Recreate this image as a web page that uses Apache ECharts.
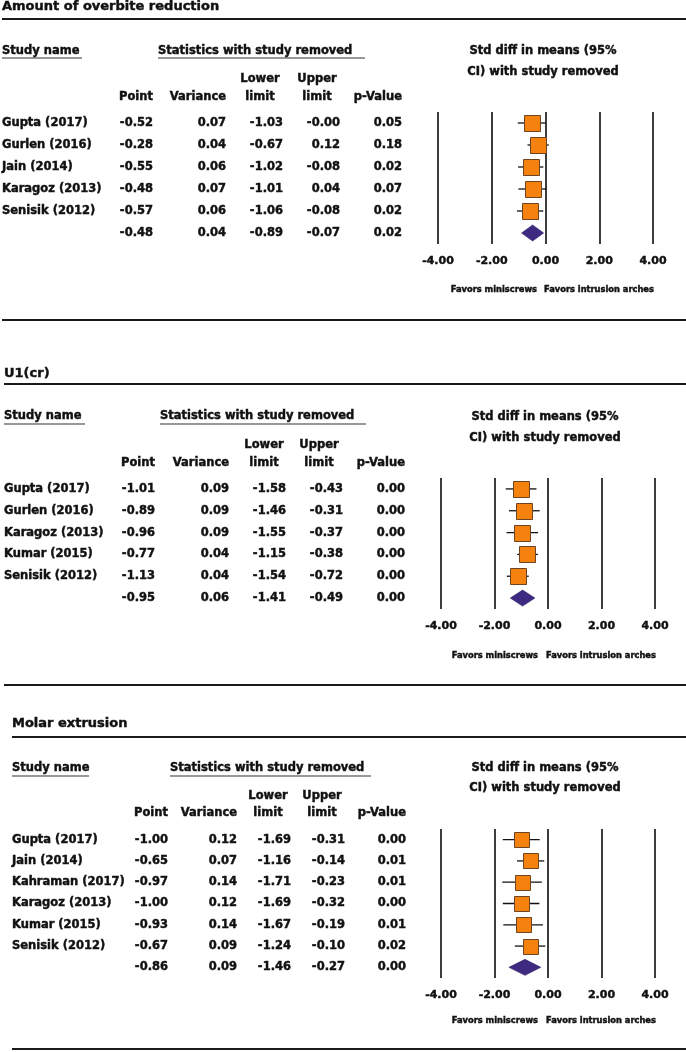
<!DOCTYPE html>
<html><head><meta charset="utf-8">
<script src="https://cdn.jsdelivr.net/npm/echarts@6/dist/echarts.min.js"></script>
<style>html,body{margin:0;padding:0;background:#fff}#c{width:686px;height:1052px}</style>
</head><body><div id="c"></div>
<script>
// ---------- DATA ----------
// Panel 1: Amount of overbite reduction
const p1Title = 'Amount of overbite reduction';
const p1Studies = ['Gupta (2017)', 'Gurlen (2016)', 'Jain (2014)', 'Karagoz (2013)', 'Senisik (2012)', ''];
const p1Point = [-0.52, -0.28, -0.55, -0.48, -0.57, -0.48];
const p1Variance = [0.07, 0.04, 0.06, 0.07, 0.06, 0.04];
const p1Lower = [-1.03, -0.67, -1.02, -1.01, -1.06, -0.89];
const p1Upper = [-0.00, 0.12, -0.08, 0.04, -0.08, -0.07];
const p1PValue = [0.05, 0.18, 0.02, 0.07, 0.02, 0.02];

// Panel 2: U1(cr)
const p2Title = 'U1(cr)';
const p2Studies = ['Gupta (2017)', 'Gurlen (2016)', 'Karagoz (2013)', 'Kumar (2015)', 'Senisik (2012)', ''];
const p2Point = [-1.01, -0.89, -0.96, -0.77, -1.13, -0.95];
const p2Variance = [0.09, 0.09, 0.09, 0.04, 0.04, 0.06];
const p2Lower = [-1.58, -1.46, -1.55, -1.15, -1.54, -1.41];
const p2Upper = [-0.43, -0.31, -0.37, -0.38, -0.72, -0.49];
const p2PValue = [0.00, 0.00, 0.00, 0.00, 0.00, 0.00];

// Panel 3: Molar extrusion
const p3Title = 'Molar extrusion';
const p3Studies = ['Gupta (2017)', 'Jain (2014)', 'Kahraman (2017)', 'Karagoz (2013)', 'Kumar (2015)', 'Senisik (2012)', ''];
const p3Point = [-1.00, -0.65, -0.97, -1.00, -0.93, -0.67, -0.86];
const p3Variance = [0.12, 0.07, 0.14, 0.12, 0.14, 0.09, 0.09];
const p3Lower = [-1.69, -1.16, -1.71, -1.69, -1.67, -1.24, -1.46];
const p3Upper = [-0.31, -0.14, -0.23, -0.32, -0.19, -0.10, -0.27];
const p3PValue = [0.00, 0.01, 0.01, 0.00, 0.01, 0.02, 0.00];

// Axis ticks / header texts
const xTicks = [-4, -2, 0, 2, 4];
const headStudy = 'Study name';
const headStats = 'Statistics with study removed';
const headCols = ['Point', 'Variance', 'limit', 'limit', 'p-Value'];
const headLower = 'Lower', headUpper = 'Upper';
const headPlot1 = 'Std diff in means (95%', headPlot2 = 'CI) with study removed';
const favLeft = 'Favors miniscrews', favRight = 'Favors intrusion arches';

// ---------- LAYOUT ----------
const panels = [
  { title: p1Title, studies: p1Studies, cols: [p1Point, p1Variance, p1Lower, p1Upper, p1PValue],
    L: { x0: 2, titleY: 6, rule1Y: 19, headY: 50, ulY: 58, studyUlEnd: 82, statX: 158, statUlEnd: 365,
         lowUpY: 78, colHeadY: 96, colRight: [153, 226, 283, 340, 402], lowC: 260, upC: 317,
         stdC: 543, stdY1: 50, stdY2: 71, grid: { left: 438, top: 112, width: 215, height: 132 },
         favY: 289, favL: 537, favR: 544, endY: 320, sq: 16 } },
  { title: p2Title, studies: p2Studies, cols: [p2Point, p2Variance, p2Lower, p2Upper, p2PValue],
    L: { x0: 4, titleY: 373, rule1Y: 384, headY: 415, ulY: 424, studyUlEnd: 85, statX: 160, statUlEnd: 366,
         lowUpY: 444, colHeadY: 462, colRight: [155, 229, 286, 343, 405], lowC: 264, upC: 319,
         stdC: 545, stdY1: 416, stdY2: 437, grid: { left: 441, top: 478, width: 214, height: 131 },
         favY: 655, favL: 538, favR: 546, endY: 685, sq: 16 } },
  { title: p3Title, studies: p3Studies, cols: [p3Point, p3Variance, p3Lower, p3Upper, p3PValue],
    L: { x0: 12, titleY: 723, rule1Y: 737, headY: 767, ulY: 776, studyUlEnd: 89, statX: 170, statUlEnd: 371,
         lowUpY: 795, colHeadY: 812, colRight: [168, 237, 291, 345, 406], lowC: 268, upC: 322,
         stdC: 545, stdY1: 767, stdY2: 787, grid: { left: 441, top: 829, width: 214, height: 149 },
         favY: 1020, favL: 538, favR: 546, endY: 1049, sq: 15 } }
];

const FONT = '"DejaVu Sans", "Liberation Sans", sans-serif';
const INK = '#111';
const HEAVY = 0.45; // thin outline to thicken glyphs like the scanned original
const TEXT_DY = 1;  // optical centring of bold caps
function fmt(v) {
  const neg = v < 0 || Object.is(v, -0);
  return (neg ? '-' : '') + Math.abs(v).toFixed(2);
}
function txt(text, x, y, size, align) {
  return { type: 'text', silent: true, style: { text: text, x: x, y: y + TEXT_DY, fill: INK,
    font: 'bold ' + size + 'px ' + FONT, align: align || 'left', verticalAlign: 'middle',
    stroke: INK, lineWidth: HEAVY } };
}
function rule(x1, x2, y, w, c) {
  return { type: 'line', silent: true, shape: { x1: x1, y1: y, x2: x2, y2: y },
    style: { stroke: c || '#1a1a1a', lineWidth: w || 2 } };
}
function labelStyle(size) {
  return { color: INK, fontFamily: FONT, fontWeight: 'bold', fontSize: size,
    textBorderColor: INK, textBorderWidth: HEAVY };
}

const grids = [], xAxes = [], yAxes = [], series = [], graphics = [];
panels.forEach(function (P, g) {
  const L = P.L;
  grids.push(Object.assign({ outerBoundsMode: 'none', containLabel: false }, L.grid));
  xAxes.push({ type: 'value', gridIndex: g, min: -4, max: 4, interval: 2,
    axisLine: { show: false }, axisTick: { show: false },
    splitLine: { show: true, lineStyle: { color: '#1a1a1a', width: 1.7 } },
    axisLabel: Object.assign({ margin: 12,
      formatter: function (v) { return xTicks.indexOf(v) >= 0 ? fmt(v) : ''; } }, labelStyle(11)) });
  const mainY = yAxes.length;
  yAxes.push({ type: 'category', gridIndex: g, data: P.studies, inverse: true,
    axisLine: { show: false }, axisTick: { show: false }, axisLabel: { show: false }, splitLine: { show: false } });
  // study-name column
  yAxes.push({ type: 'category', gridIndex: g, data: P.studies, inverse: true, position: 'left',
    offset: L.grid.left - L.x0, axisLine: { show: false }, axisTick: { show: false }, splitLine: { show: false },
    axisLabel: Object.assign({ interval: 0, margin: 0, align: 'left', padding: [2 * TEXT_DY, 0, 0, 0] }, labelStyle(11.5)) });
  // numeric columns
  P.cols.forEach(function (col, k) {
    yAxes.push({ type: 'category', gridIndex: g, data: P.studies, inverse: true, position: 'left',
      offset: L.grid.left - L.colRight[k], axisLine: { show: false }, axisTick: { show: false }, splitLine: { show: false },
      axisLabel: Object.assign({ interval: 0, margin: 0, align: 'right', padding: [2 * TEXT_DY, 0, 0, 0],
        formatter: function (v, idx) { return fmt(col[idx]); } }, labelStyle(11.5)) });
  });
  const n = P.studies.length;
  const data = P.cols[0].map(function (pt, i) {
    return [pt, P.cols[2][i], P.cols[3][i], i, i === n - 1 ? 1 : 0];
  });
  const sq = L.sq;
  series.push({ type: 'custom', xAxisIndex: g, yAxisIndex: mainY, data: data, encode: { x: [0, 1, 2], y: 3 },
    silent: true,
    renderItem: function (params, api) {
      const row = api.value(3);
      const pt = api.coord([api.value(0), row]);
      const lo = api.coord([api.value(1), row]);
      const hi = api.coord([api.value(2), row]);
      if (api.value(4) === 1) {
        const h = 8;
        return { type: 'polygon', shape: { points: [[lo[0], pt[1]], [pt[0], pt[1] - h], [hi[0], pt[1]], [pt[0], pt[1] + h]] },
          style: { fill: '#3e2a80', stroke: '#2c1d66', lineWidth: 0.6 } };
      }
      return { type: 'group', children: [
        { type: 'line', shape: { x1: lo[0], y1: pt[1], x2: hi[0], y2: pt[1] }, style: { stroke: '#111', lineWidth: 1.3 } },
        { type: 'rect', shape: { x: Math.round(pt[0] - sq / 2) + 0.5, y: Math.round(pt[1] - sq / 2) + 0.5, width: sq, height: sq },
          style: { fill: '#f5820f', stroke: '#6e4420', lineWidth: 1 } }
      ] };
    } });

  // headers and rules
  graphics.push(txt(P.title, L.x0, L.titleY, 13, 'left'));
  graphics.push(rule(L.x0, 686, L.rule1Y, 2));
  graphics.push(txt(headStudy, L.x0, L.headY, 11.5, 'left'));
  graphics.push(rule(L.x0, L.studyUlEnd, L.ulY, 1.2, '#333'));
  graphics.push(txt(headStats, L.statX, L.headY, 11.5, 'left'));
  graphics.push(rule(L.statX, L.statUlEnd, L.ulY, 1.2, '#333'));
  graphics.push(txt(headLower, L.lowC, L.lowUpY, 11.5, 'center'));
  graphics.push(txt(headUpper, L.upC, L.lowUpY, 11.5, 'center'));
  headCols.forEach(function (h, k) {
    if (k === 2) graphics.push(txt(h, L.lowC, L.colHeadY, 11.5, 'center'));
    else if (k === 3) graphics.push(txt(h, L.upC, L.colHeadY, 11.5, 'center'));
    else graphics.push(txt(h, L.colRight[k], L.colHeadY, 11.5, 'right'));
  });
  graphics.push(txt(headPlot1, L.stdC, L.stdY1, 11.5, 'center'));
  graphics.push(txt(headPlot2, L.stdC, L.stdY2, 11.5, 'center'));
  graphics.push(txt(favLeft, L.favL, L.favY, 8.3, 'right'));
  graphics.push(txt(favRight, L.favR, L.favY, 8.3, 'left'));
  graphics.push(rule(L.x0, 686, L.endY, 2));
});

const chart = echarts.init(document.getElementById('c'), null, { renderer: 'canvas' });
chart.setOption({
  backgroundColor: '#fff',
  animation: false,
  grid: grids, xAxis: xAxes, yAxis: yAxes, series: series,
  graphic: { elements: graphics }
});
</script></body></html>
